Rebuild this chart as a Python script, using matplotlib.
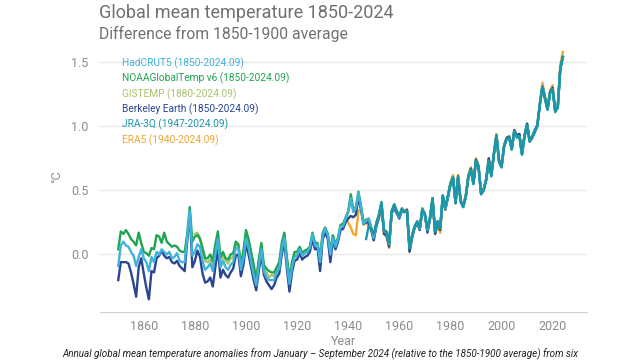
import matplotlib
matplotlib.use('Agg')
import matplotlib.pyplot as plt

plt.rcParams['font.family'] = ['Roboto', 'DejaVu Sans']

# annual anomalies (deg C, relative to 1850-1900)
years_hadcrut = list(range(1850, 2025))
hadcrut5 = [
  -0.09, 0.07, 0.10, 0.07, 0.06, 0.02, -0.01, -0.09, -0.02, 0.04,
  -0.03, -0.06, -0.13, -0.02, -0.06, 0.02, 0.00, 0.04, 0.02, 0.00,
  0.02, -0.03, -0.02, 0.01, -0.05, -0.06, -0.06, 0.13, 0.34, -0.01,
  0.02, 0.08, 0.06, -0.05, -0.12, -0.10, -0.07, -0.13, 0.00, 0.12,
  -0.10, -0.05, -0.10, -0.12, -0.08, -0.06, 0.05, 0.05, -0.12, -0.03,
  0.12, 0.05, -0.06, -0.16, -0.24, -0.09, 0.04, -0.13, -0.18, -0.20,
  -0.20, -0.20, -0.14, -0.11, 0.04, 0.13, -0.07, -0.23, -0.10, -0.02,
  -0.01, 0.04, -0.01, 0.01, 0.02, 0.05, 0.16, 0.07, 0.08, -0.06,
  0.15, 0.20, 0.15, 0.00, 0.13, 0.06, 0.12, 0.22, 0.22, 0.28,
  0.33, 0.44, 0.33, 0.36, 0.48, 0.37, 0.24, 0.26, 0.28, 0.21,
  0.13, 0.24, 0.30, 0.40, 0.18, 0.17, 0.08, 0.33, 0.38, 0.33,
  0.29, 0.35, 0.33, 0.34, 0.05, 0.15, 0.22, 0.25, 0.20, 0.35,
  0.31, 0.19, 0.28, 0.43, 0.18, 0.26, 0.21, 0.46, 0.36, 0.45,
  0.55, 0.60, 0.40, 0.60, 0.42, 0.37, 0.45, 0.60, 0.66, 0.55,
  0.73, 0.68, 0.47, 0.50, 0.58, 0.73, 0.61, 0.78, 0.93, 0.73,
  0.68, 0.84, 0.90, 0.91, 0.82, 0.96, 0.92, 0.92, 0.78, 0.92,
  1.01, 0.88, 0.91, 0.96, 1.00, 1.17, 1.31, 1.22, 1.13, 1.26,
  1.29, 1.12, 1.15, 1.45, 1.54,
]

years_noaa = list(range(1850, 2025))
noaa = [
  0.04, 0.18, 0.16, 0.19, 0.16, 0.12, 0.10, 0.07, 0.17, 0.09,
  0.02, 0.01, -0.01, 0.05, 0.04, 0.15, 0.14, 0.09, 0.17, 0.10,
  0.08, 0.06, 0.07, 0.06, 0.03, 0.02, 0.02, 0.16, 0.37, 0.10,
  0.14, 0.15, 0.12, 0.05, -0.03, -0.03, 0.00, -0.05, 0.08, 0.18,
  -0.02, 0.02, -0.03, -0.04, 0.00, 0.01, 0.10, 0.08, -0.08, 0.03,
  0.19, 0.12, 0.02, -0.08, -0.20, -0.04, 0.09, -0.08, -0.11, -0.13,
  -0.14, -0.14, -0.10, -0.06, 0.09, 0.17, -0.02, -0.19, -0.06, 0.02,
  0.02, 0.06, 0.01, 0.03, 0.04, 0.06, 0.17, 0.09, 0.09, -0.03,
  0.17, 0.21, 0.16, 0.03, 0.15, 0.08, 0.13, 0.23, 0.24, 0.29,
  0.34, 0.47, 0.35, 0.37, 0.49, 0.38, 0.25, 0.27, 0.28, 0.21,
  0.13, 0.25, 0.31, 0.41, 0.19, 0.18, 0.08, 0.33, 0.39, 0.34,
  0.30, 0.35, 0.33, 0.34, 0.05, 0.14, 0.21, 0.25, 0.21, 0.36,
  0.31, 0.20, 0.29, 0.44, 0.18, 0.26, 0.20, 0.46, 0.36, 0.45,
  0.55, 0.60, 0.41, 0.60, 0.42, 0.38, 0.45, 0.61, 0.66, 0.55,
  0.73, 0.68, 0.48, 0.51, 0.58, 0.73, 0.62, 0.78, 0.92, 0.72,
  0.68, 0.84, 0.90, 0.91, 0.82, 0.96, 0.91, 0.92, 0.78, 0.92,
  1.01, 0.88, 0.91, 0.95, 1.00, 1.17, 1.30, 1.21, 1.13, 1.26,
  1.28, 1.12, 1.14, 1.45, 1.54,
]

years_gistemp = list(range(1880, 2025))
gistemp = [
  0.16, 0.17, 0.13, 0.03, -0.05, -0.06, -0.04, -0.09, 0.05, 0.15,
  -0.06, -0.01, -0.05, -0.07, -0.03, -0.02, 0.08, 0.07, -0.10, 0.01,
  0.15, 0.10, 0.00, -0.09, -0.20, -0.05, 0.06, -0.10, -0.14, -0.18,
  -0.16, -0.17, -0.12, -0.08, 0.06, 0.14, -0.04, -0.20, -0.08, 0.00,
  0.00, 0.05, 0.00, 0.02, 0.03, 0.05, 0.16, 0.08, 0.08, -0.04,
  0.16, 0.20, 0.15, 0.02, 0.14, 0.07, 0.12, 0.22, 0.23, 0.27,
  0.33, 0.42, 0.34, 0.35, 0.47, 0.36, 0.25, 0.26, 0.26, 0.20,
  0.12, 0.24, 0.30, 0.40, 0.18, 0.16, 0.07, 0.33, 0.38, 0.33,
  0.29, 0.35, 0.33, 0.34, 0.04, 0.14, 0.22, 0.25, 0.20, 0.35,
  0.31, 0.19, 0.28, 0.44, 0.17, 0.25, 0.20, 0.46, 0.36, 0.45,
  0.56, 0.61, 0.40, 0.61, 0.42, 0.38, 0.46, 0.61, 0.67, 0.56,
  0.74, 0.69, 0.48, 0.51, 0.59, 0.74, 0.62, 0.79, 0.93, 0.73,
  0.69, 0.85, 0.91, 0.92, 0.83, 0.97, 0.92, 0.93, 0.79, 0.93,
  1.02, 0.89, 0.92, 0.96, 1.01, 1.18, 1.32, 1.23, 1.14, 1.27,
  1.30, 1.13, 1.15, 1.46, 1.55,
]

years_berkeley = list(range(1850, 2025))
berkeley = [
  -0.20, -0.06, -0.06, -0.06, -0.07, -0.14, -0.23, -0.33, -0.10, -0.03,
  -0.15, -0.26, -0.35, -0.13, -0.14, -0.03, -0.01, 0.03, -0.01, -0.03,
  -0.02, -0.06, -0.07, -0.05, -0.09, -0.11, -0.13, 0.11, 0.32, -0.10,
  -0.05, 0.03, -0.02, -0.15, -0.22, -0.21, -0.18, -0.25, -0.10, 0.05,
  -0.18, -0.12, -0.16, -0.18, -0.14, -0.11, -0.01, 0.00, -0.17, -0.08,
  0.08, 0.00, -0.10, -0.20, -0.28, -0.13, 0.00, -0.16, -0.21, -0.24,
  -0.27, -0.24, -0.18, -0.15, 0.00, 0.10, -0.11, -0.29, -0.14, -0.05,
  -0.04, 0.01, -0.04, -0.02, -0.01, 0.02, 0.12, 0.04, 0.05, -0.13,
  0.12, 0.17, 0.12, -0.06, 0.11, 0.04, 0.10, 0.19, 0.20, 0.25,
  0.28, 0.30, 0.29, 0.31, 0.45, 0.35, 0.24, 0.25, 0.25, 0.19,
  0.11, 0.22, 0.29, 0.39, 0.16, 0.15, 0.06, 0.32, 0.36, 0.32,
  0.28, 0.34, 0.33, 0.35, 0.02, 0.13, 0.21, 0.24, 0.19, 0.34,
  0.31, 0.17, 0.27, 0.43, 0.16, 0.24, 0.19, 0.45, 0.35, 0.44,
  0.54, 0.60, 0.40, 0.61, 0.41, 0.37, 0.45, 0.60, 0.67, 0.56,
  0.74, 0.69, 0.47, 0.50, 0.59, 0.75, 0.62, 0.78, 0.93, 0.74,
  0.69, 0.85, 0.91, 0.92, 0.83, 0.97, 0.93, 0.94, 0.79, 0.93,
  1.02, 0.89, 0.92, 0.97, 1.01, 1.17, 1.31, 1.22, 1.14, 1.27,
  1.30, 1.12, 1.15, 1.45, 1.54,
]

years_jra3q = list(range(1947, 2025))
jra3q = [
  0.12, 0.22, 0.20,
  0.16, 0.24, 0.30, 0.40, 0.19, 0.17, 0.09, 0.34, 0.39, 0.33,
  0.30, 0.36, 0.33, 0.34, 0.05, 0.15, 0.22, 0.26, 0.21, 0.35,
  0.32, 0.20, 0.29, 0.44, 0.18, 0.26, 0.21, 0.46, 0.37, 0.46,
  0.55, 0.60, 0.40, 0.60, 0.42, 0.37, 0.45, 0.60, 0.66, 0.55,
  0.73, 0.68, 0.47, 0.50, 0.58, 0.73, 0.61, 0.78, 0.93, 0.73,
  0.68, 0.84, 0.90, 0.91, 0.82, 0.96, 0.92, 0.92, 0.78, 0.92,
  1.01, 0.88, 0.91, 0.96, 1.00, 1.17, 1.31, 1.22, 1.13, 1.26,
  1.29, 1.11, 1.15, 1.45, 1.54,
]

years_era5 = list(range(1940, 2025))
era5 = [
  0.25, 0.21, 0.16, 0.15, 0.34, 0.35, 0.23, 0.25, 0.22, 0.19,
  0.12, 0.22, 0.28, 0.38, 0.16, 0.14, 0.05, 0.33, 0.39, 0.34,
  0.30, 0.36, 0.34, 0.35, 0.03, 0.14, 0.21, 0.25, 0.20, 0.35,
  0.30, 0.18, 0.28, 0.43, 0.16, 0.22, 0.17, 0.45, 0.35, 0.45,
  0.56, 0.62, 0.41, 0.62, 0.42, 0.38, 0.46, 0.62, 0.68, 0.56,
  0.75, 0.69, 0.48, 0.51, 0.59, 0.75, 0.62, 0.79, 0.94, 0.74,
  0.69, 0.85, 0.91, 0.92, 0.82, 0.97, 0.92, 0.93, 0.78, 0.93,
  1.02, 0.88, 0.91, 0.96, 1.00, 1.18, 1.34, 1.24, 1.14, 1.28,
  1.32, 1.12, 1.15, 1.48, 1.58,
]

legend_labels = [
  'HadCRUT5 (1850-2024.09)',
  'NOAAGlobalTemp v6 (1850-2024.09)',
  'GISTEMP (1880-2024.09)',
  'Berkeley Earth (1850-2024.09)',
  'JRA-3Q (1947-2024.09)',
  'ERA5 (1940-2024.09)',
]
colors = {
  'hadcrut': '#3fb3dd',
  'noaa': '#1fa552',
  'gistemp': '#a9c46a',
  'berkeley': '#2a4591',
  'jra': '#1b95a8',
  'era5': '#f2a62d',
}


def plot_temperatures():
  fig = plt.figure(figsize=(6.4, 3.6), dpi=100)
  ax = fig.add_axes([0.156, 0.133, 0.761, 0.737])

  # drawing order: last one ends up on top
  ax.plot(years_era5, era5, color=colors['era5'], lw=1.7, zorder=3)
  ax.plot(years_gistemp, gistemp, color=colors['gistemp'], lw=1.7, zorder=3)
  ax.plot(years_berkeley, berkeley, color=colors['berkeley'], lw=1.7, zorder=3)
  ax.plot(years_noaa, noaa, color=colors['noaa'], lw=1.7, zorder=3)
  ax.plot(years_hadcrut, hadcrut5, color=colors['hadcrut'], lw=1.7, zorder=3)
  ax.plot(years_jra3q, jra3q, color=colors['jra'], lw=1.7, zorder=3)

  ax.set_xlim(1842.8, 2033.4)
  ax.set_ylim(-0.45, 1.62)
  ax.set_xticks(range(1860, 2021, 20))
  ax.set_yticks([0.0, 0.5, 1.0, 1.5])
  ax.set_yticklabels(['0.0', '0.5', '1.0', '1.5'])
  ax.grid(axis='y', color='#e8e8e8', lw=1.0, zorder=0)
  for side in ['top', 'right', 'left']:
    ax.spines[side].set_visible(False)
  ax.spines['bottom'].set_color('#d0d0d0')
  ax.tick_params(axis='both', length=0, labelsize=9, colors='#8c8c8c')
  ax.tick_params(axis='x', pad=6)
  ax.tick_params(axis='y', pad=8)

  ax.set_xlabel('Year', color='#8c8c8c', fontsize=9, labelpad=1)
  ax.set_ylabel('°C', color='#8c8c8c', fontsize=9)
  ax.yaxis.set_label_coords(-0.076, 0.51)

  fig.text(0.155, 0.964, 'Global mean temperature 1850-2024', fontsize=13,
           color='#707070', va='center')
  fig.text(0.155, 0.905, 'Difference from 1850-1900 average', fontsize=11.3,
           color='#707070', va='center')

  legend_colors = [colors['hadcrut'], colors['noaa'], colors['gistemp'],
                   colors['berkeley'], colors['jra'], colors['era5']]
  for i, (label, c) in enumerate(zip(legend_labels, legend_colors)):
    fig.text(0.19, 1 - (63 + i * 15.4) / 360, label, fontsize=7.3, color=c, va='center')

  fig.text(0.097, 1 - 354 / 360, 'Annual global mean temperature anomalies from January \u2013 September 2024 '
           '(relative to the 1850-1900 average) from six',
           fontsize=7.15, style='italic', color='#222222', va='center')

  fig.savefig('out.png', dpi=100)


if __name__ == '__main__':
  plot_temperatures()
